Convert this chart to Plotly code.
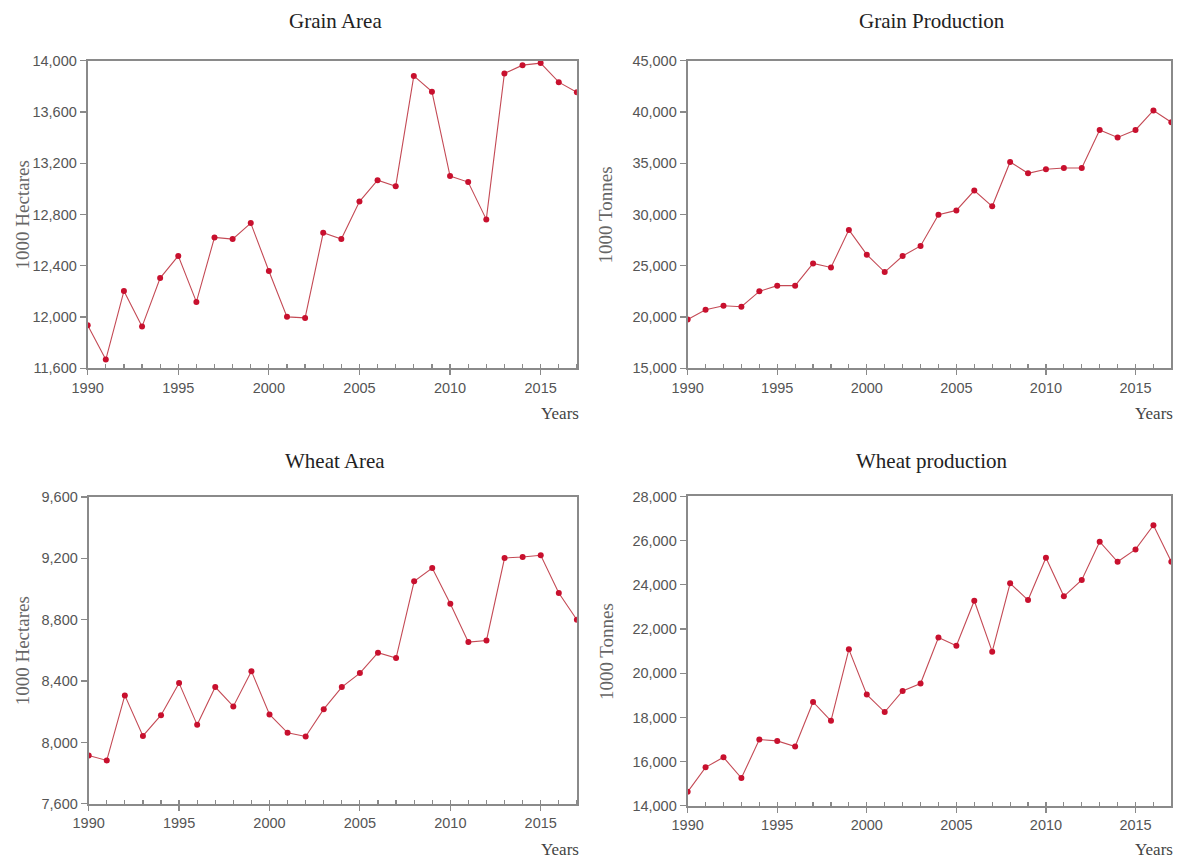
import plotly.graph_objects as go

years = list(range(1990, 2018))

grain_area = [11935, 11668, 12202, 11925, 12304, 12477, 12118, 12621, 12608, 12733,
              12359, 12001, 11993, 12657, 12608, 12901, 13068, 13021, 13882, 13759,
              13100, 13053, 12762, 13901, 13966, 13982, 13833, 13754]

grain_production = [19750, 20700, 21100, 21000, 22500, 23060, 23060, 25230, 24830, 28500,
                    26080, 24380, 25950, 26930, 29980, 30400, 32340, 30800, 35130, 34020,
                    34410, 34540, 34540, 38250, 37520, 38250, 40150, 39000]

wheat_area = [7915, 7883, 8307, 8043, 8178, 8387, 8115, 8361, 8235, 8465,
              8183, 8063, 8039, 8217, 8361, 8452, 8585, 8550, 9050, 9137,
              8904, 8654, 8665, 9202, 9209, 9220, 8974, 8800]

wheat_production = [14635, 15743, 16198, 15257, 17002, 16941, 16683, 18701, 17851, 21082,
                    19035, 18246, 19201, 19535, 21613, 21249, 23282, 20976, 24071, 23312,
                    25224, 23479, 24223, 25952, 25042, 25603, 26695, 25042]

titles = ["Grain Area", "Grain Production", "Wheat Area", "Wheat production"]
ytitles = ["1000 Hectares", "1000 Tonnes", "1000 Hectares", "1000 Tonnes"]
yranges = [[11600, 14000], [15000, 45000], [7600, 9600], [14000, 28000]]
ydticks = [400, 5000, 400, 2000]
series = [grain_area, grain_production, wheat_area, wheat_production]

W, H = 1179, 863
# target boxes: left, right, top, bottom, title x, title y, years y, ytitle x
boxes = [(88, 576, 62, 369, 335, 22, 414, 18),
         (686.5, 1169, 62, 369, 930, 22, 414, 605),
         (89, 576, 497.5, 804, 335, 462, 850, 18),
         (686.5, 1169, 497, 806, 930, 462, 850, 605)]

# screen calibration (page px -> screen px)
SX, CX, SY, CY = 0.984, 16.5, 0.98, 9.3


def fx(x):
    return max((x - CX) / SX, 0) / W


def fy(y):
    return 1 - max((y - CY) / SY, 0) / H


LINE = "#c44a55"
MARK = "#c8102e"
FRAME = "#8a8a8a"
TICKC = "#555555"
SERIF = "Liberation Serif, Times New Roman, serif"
SANS = "Liberation Sans, Arial, sans-serif"

fig = go.Figure()
layout = dict(
    width=W, height=H, margin=dict(l=0, r=0, t=0, b=0),
    paper_bgcolor="white", plot_bgcolor="white", showlegend=False,
    hovermode=False,
)
annotations = []

for i in range(4):
    n = "" if i == 0 else str(i + 1)
    l, r, t, b, tx, ty, yy, ytx = boxes[i]
    fig.add_trace(go.Scatter(
        x=years, y=series[i], mode="lines+markers",
        line=dict(color=LINE, width=1.1),
        marker=dict(color=MARK, size=6),
        xaxis="x" + n, yaxis="y" + n,
    ))
    layout["xaxis" + n] = dict(
        domain=[fx(l), min(fx(r), 1.0)], anchor="y" + n, range=[1990, 2017],
        tickmode="linear", tick0=1990, dtick=5,
        ticks="outside", ticklen=5, tickwidth=1.2, tickcolor=FRAME,
        minor=dict(ticks="inside", dtick=1, tick0=1990, ticklen=4, tickcolor=FRAME, tickwidth=1.2),
        showline=True, linecolor=FRAME, linewidth=2, mirror=True,
        showgrid=False, zeroline=False,
        tickfont=dict(family=SANS, size=14.5, color=TICKC),
    )
    layout["yaxis" + n] = dict(
        domain=[fy(b), fy(t)], anchor="x" + n, range=yranges[i],
        tickmode="linear", tick0=yranges[i][0], dtick=ydticks[i],
        tickformat=",d",
        ticks="outside", ticklen=6, tickwidth=1.2, tickcolor=FRAME,
        showline=True, linecolor=FRAME, linewidth=2, mirror=True,
        showgrid=False, zeroline=False,
        tickfont=dict(family=SANS, size=14.5, color=TICKC),
    )
    annotations.append(dict(
        text=titles[i], xref="paper", yref="paper",
        x=fx(tx), y=fy(ty), xanchor="center", yanchor="middle",
        showarrow=False, font=dict(family=SERIF, size=21, color="#222222"),
    ))
    annotations.append(dict(
        text=ytitles[i], xref="paper", yref="paper",
        x=max(fx(ytx), 7 / W), y=fy((t + b) / 2), xanchor="center", yanchor="middle",
        textangle=-90, showarrow=False,
        font=dict(family=SERIF, size=19, color="#666666"),
    ))
    annotations.append(dict(
        text="Years", xref="paper", yref="paper",
        x=min(fx(r + 4), 1.0), y=fy(yy), xanchor="right", yanchor="middle",
        showarrow=False, font=dict(family=SERIF, size=17, color="#444444"),
    ))

layout["annotations"] = annotations
fig.update_layout(**layout)
fig.write_html(
    "out.html",
    config={"displayModeBar": False, "staticPlot": True},
    post_script="document.body.style.margin='0';document.body.style.overflow='hidden';",
)
